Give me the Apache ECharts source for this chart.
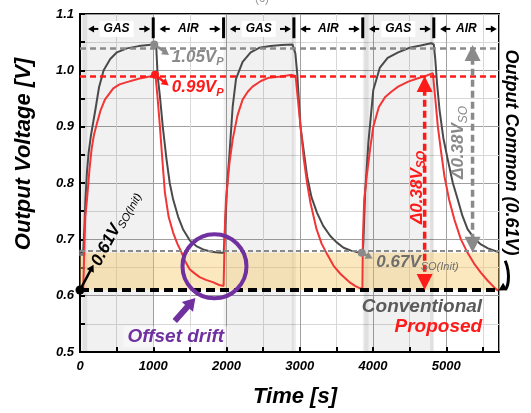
<!DOCTYPE html>
<html><head><meta charset="utf-8">
<script src="https://cdn.jsdelivr.net/npm/echarts@6/dist/echarts.min.js"></script>
<style>html,body{margin:0;padding:0;background:#fff}#c{width:531px;height:413px}</style>
</head><body><div id="c"></div>
<script>
// ---------------- DATA ----------------
const convT = [0,45,60,74,95,119,150,210,260,323,413,504,640,800,1000,1040,
  1060,1091,1130,1181,1225,1271,1340,1406,1500,1588,1680,1768,1850,1930,1962,
  1972,1993,2010,2040,2084,2130,2220,2330,2446,2600,2750,2900,
  2940,2965,3010,3100,3160,3236,3320,3417,3500,3598,3700,3824,3860,
  3870,3892,3937,4004,4094,4200,4343,4500,4650,4794,4830,
  4850,4875,4908,4960,5020,5090,5156,5220,5291,5380,5472,5570,5675,5710];
const convV = [0.676,0.68,0.72,0.77,0.82,0.855,0.885,0.93,0.97,1.0,1.02,1.032,1.039,1.043,1.046,1.044,
  0.99,0.954,0.90,0.842,0.80,0.771,0.74,0.718,0.698,0.688,0.682,0.679,0.677,0.676,0.676,
  0.70,0.753,0.80,0.85,0.935,0.985,1.015,1.032,1.040,1.043,1.045,1.046,
  1.03,0.995,0.90,0.812,0.775,0.747,0.724,0.706,0.695,0.685,0.680,0.676,0.676,
  0.70,0.783,0.872,0.965,1.005,1.022,1.032,1.040,1.044,1.048,1.046,
  1.02,0.975,0.93,0.88,0.842,0.80,0.771,0.742,0.718,0.702,0.691,0.684,0.679,0.678];
const propT = [0,45,58,72,98,130,160,190,230,278,340,454,540,640,800,950,1030,
  1060,1091,1125,1159,1210,1271,1330,1385,1440,1497,1560,1633,1720,1813,1900,1960,
  1968,1980,1993,2040,2084,2150,2220,2290,2355,2470,2581,2750,2890,
  2943,2988,3056,3100,3146,3229,3300,3380,3462,3560,3688,3760,3824,3855,
  3862,3880,3914,3960,4004,4080,4163,4250,4343,4480,4614,4720,4817,
  4850,4885,4930,4975,5040,5111,5200,5291,5380,5472,5570,5675,5710];
const propV = [0.612,0.614,0.68,0.74,0.775,0.825,0.862,0.885,0.905,0.928,0.948,0.968,0.975,0.979,0.985,0.989,0.992,
  0.95,0.90,0.84,0.783,0.74,0.712,0.692,0.677,0.66,0.647,0.64,0.633,0.628,0.624,0.619,0.617,
  0.66,0.73,0.77,0.835,0.877,0.92,0.948,0.962,0.971,0.981,0.987,0.989,0.992,
  0.99,0.93,0.842,0.80,0.765,0.718,0.692,0.672,0.653,0.638,0.623,0.617,0.613,0.612,
  0.70,0.77,0.812,0.86,0.90,0.935,0.952,0.962,0.971,0.98,0.986,0.99,0.995,
  0.95,0.90,0.855,0.812,0.77,0.735,0.70,0.676,0.657,0.641,0.626,0.612,0.609];
const phaseEdges = [0,1000,1960,2920,3860,4830,5720];
const phaseNames = ['GAS','AIR','GAS','AIR','GAS','AIR'];
const edgeBands = [[35,100],[2890,2950],[3880,3940],[4780,4825]];
const xTickLabels = ['0','1000','2000','3000','4000','5000'];
const yTickLabels = ['0.5','0.6','0.7','0.8','0.9','1.0','1.1'];
const convPeak = 1.045, propPeak = 0.99, convBase = 0.676, propBase = 0.61;

// ---------------- CHART ----------------
const F = "'Liberation Sans', Arial, Helvetica, sans-serif";
const chart = echarts.init(document.getElementById('c'));
const zip = (a,b) => a.map((t,i) => [t,b[i]]);
const BI = {fontFamily:F, fontWeight:'bold', fontStyle:'italic', color:'#000'};

const gasAreas = [];
phaseNames.forEach((n,i) => { if (n === 'GAS') gasAreas.push([{xAxis:phaseEdges[i]},{xAxis:phaseEdges[i+1]}]); });

function helper(name, z, extra){
  return Object.assign({name, type:'line', data:[], silent:true, z, showSymbol:false, lineStyle:{opacity:0}}, extra);
}
function hline(v, color, width, dash){
  return {yAxis:v, lineStyle:{color, width, type:dash}};
}

chart.setOption({
  animation:false,
  backgroundColor:'#fff',
  grid:{left:80, right:32, top:14, bottom:60, show:true, borderColor:'#000', borderWidth:2, backgroundColor:'#fff'},
  xAxis:{type:'value', min:0, max:5720, interval:500,
    name:'Time [s]', nameLocation:'middle', nameGap:34,
    nameTextStyle:Object.assign({}, BI, {fontSize:22, padding:[0,0,0,11]}),
    axisLine:{onZero:false, lineStyle:{color:'#000', width:2}},
    axisTick:{inside:true, length:5, lineStyle:{color:'#000', width:2}},
    axisLabel:Object.assign({}, BI, {fontSize:13, margin:8, showMaxLabel:false,
      formatter:v => (v % 1000 === 0 ? xTickLabels[v/1000] : '')}),
    splitLine:{show:true, lineStyle:{color:['#a0a0a0','#d8d8d8'], width:1}}
  },
  yAxis:{type:'value', min:0.5, max:1.1, interval:0.05,
    name:'Output Voltage [V]', nameLocation:'middle', nameGap:45, nameRotate:90,
    nameTextStyle:Object.assign({}, BI, {fontSize:22, padding:[0,0,0,58]}),
    axisLine:{onZero:false, lineStyle:{color:'#000', width:2}},
    axisTick:{inside:true, length:5, lineStyle:{color:'#000', width:2}},
    axisLabel:Object.assign({}, BI, {fontSize:13, margin:6,
      formatter:v => { const k = Math.round(v*100); return k % 10 === 0 ? yTickLabels[(k-50)/10] : ''; }}),
    splitLine:{show:true, lineStyle:{color:['#a0a0a0','#d8d8d8'], width:1}}
  },
  series:[
    helper('gas', 1, {markArea:{silent:true, itemStyle:{color:'rgba(0,0,0,0.055)'}, data:gasAreas}}),
    helper('edges', 1, {markArea:{silent:true, itemStyle:{color:'rgba(0,0,0,0.07)'}, data:edgeBands.map(b => [{xAxis:b[0]},{xAxis:b[1]}])}}),
    helper('drift', 1, {markArea:{silent:true, itemStyle:{color:'rgba(247,200,100,0.42)'}, data:[[{yAxis:propBase},{yAxis:convBase}]]}}),
    {name:'Conventional', type:'line', data:zip(convT,convV), showSymbol:false, z:3,
      lineStyle:{color:'#4a4a4a', width:2}},
    {name:'Proposed', type:'line', data:zip(propT,propV), showSymbol:false, z:4,
      lineStyle:{color:'#f23535', width:2}},
    helper('refs', 6, {markLine:{silent:true, symbol:'none', label:{show:false},
      data:[hline(convPeak,'#8a8a8a',2.5,[6,4]), hline(propPeak,'#ff1a1a',2.5,[6,4]),
            hline(convBase,'#8a8a8a',2,[5,3]), hline(propBase,'#000',4,[9,5])]}})
  ]
});

// ---------------- ANNOTATIONS (positions from the axes' scales) ----------------
const px = (t,v) => chart.convertToPixel({gridIndex:0},[t,v]);
function seg(p,q,color,w,dash){ return {type:'line', z:110, shape:{x1:p[0],y1:p[1],x2:q[0],y2:q[1]}, style:{stroke:color, lineWidth:w, lineDash:dash||null}}; }
function head(tip,u,color,len,wid){
  const nx=-u[1], ny=u[0], bx=tip[0]-u[0]*len, by=tip[1]-u[1]*len;
  return {type:'polygon', z:111, shape:{points:[tip,[bx+nx*wid/2,by+ny*wid/2],[bx-nx*wid/2,by-ny*wid/2]]}, style:{fill:color}};
}
function arrow(a,b,o){
  const p=px(a[0],a[1]), q=px(b[0],b[1]);
  const dx=q[0]-p[0], dy=q[1]-p[1], L=Math.hypot(dx,dy), u=[dx/L,dy/L];
  const p2 = o.both ? [p[0]+u[0]*o.len*0.8, p[1]+u[1]*o.len*0.8] : p;
  const q2 = [q[0]-u[0]*o.len*0.8, q[1]-u[1]*o.len*0.8];
  const els=[seg(p2,q2,o.color,o.w,o.dash), head(q,u,o.color,o.len,o.wid)];
  if (o.both) els.push(head(p,[-u[0],-u[1]],o.color,o.len,o.wid));
  return els;
}
function dot(t,v,color,r){ const p=px(t,v); return {type:'circle', z:112, shape:{cx:p[0],cy:p[1],r}, style:{fill:color}}; }
function txt(t,v,text,o){
  const p=px(t,v);
  return {type:'text', z:120, x:p[0]+(o.dx||0), y:p[1], rotation:o.rot||0,
    style:Object.assign({text, fontFamily:F, fontWeight:'bold', fontStyle:'italic', fontSize:o.size||17,
      fill:o.color||'#000', align:o.align||'left', verticalAlign:o.va||'middle'}, o.extra||{})};
}
function rich(color, ms, ss, pad, subStyle){
  return {a:{fontFamily:F, fontWeight:'bold', fontStyle:'italic', fontSize:ms, fill:color},
          b:{fontFamily:F, fontWeight:subStyle||'bold', fontStyle:'italic', fontSize:ss, fill:color, padding:[pad,0,0,0]}};
}

const G = [];
// phase header: bars, arrows, labels
const yHead = 1.0735;
phaseEdges.slice(1,-1).forEach(e => G.push(seg(px(e,1.094), px(e,1.057), '#000', 3)));
phaseNames.forEach((n,i) => {
  const a = phaseEdges[i], b = phaseEdges[i+1];
  const lt = i === 0 ? a+110 : a+85, rt = i === phaseNames.length-1 ? b-30 : b-40;
  G.push(...arrow([lt+140,yHead],[lt,yHead],{color:'#000', w:2, len:6, wid:7}));
  G.push(...arrow([rt-150,yHead],[rt,yHead],{color:'#000', w:2, len:6, wid:7}));
  G.push(txt((a+b)/2, yHead, n, {size:12, align:'center', extra:{backgroundColor:'#fff', padding:[2,4]}}));
});

// peak annotations
G.push(dot(1014,1.046,'#8a8a8a',4), ...arrow([1014,1.046],[1215,1.027],{color:'#8a8a8a', w:2.5, len:7, wid:8}));
G.push(txt(1253,1.024,'{a|1.05V}{b|P}',{extra:{rich:rich('#8a8a8a',17,11,10)}}));
G.push(dot(1024,0.992,'#ff1a1a',4), ...arrow([1024,0.992],[1210,0.973],{color:'#ff1a1a', w:2.5, len:7, wid:8}));
G.push(txt(1253,0.969,'{a|0.99V}{b|P}',{extra:{rich:rich('#ff1a1a',17,11,10)}}));

// baseline annotations
G.push(dot(3846,convBase,'#8a8a8a',4), ...arrow([3846,convBase],[3995,0.666],{color:'#8a8a8a', w:2.5, len:7, wid:8}));
G.push(txt(4045,0.659,'{a|0.67V}{b|SO(Init)}',{extra:{rich:rich('#6e6e6e',17,11,10,'normal')}}));
G.push(dot(0,propBase,'#000',4.5), ...arrow([0,propBase],[185,0.655],{color:'#000', w:2.5, len:7, wid:8}));
G.push(txt(215,0.655,'{a|0.61V}{b|SO(Init)}',{rot:1.08, va:'middle', extra:{rich:rich('#000',17,11,10,'normal')}}));
G.push({type:'rect', z:2, shape:(()=>{const p=px(30,convBase);return {x:p[0]-3,y:p[1]-3,width:6,height:6};})(), style:{fill:'#777'}});

// delta arrows
G.push(...arrow([4705,propPeak],[4705,propBase],{color:'#ff1a1a', w:3.5, len:16, wid:16, both:true, dash:[7,4]}));
G.push(txt(4600,0.792,'{a|Δ0.38V}{b|SO}',{rot:Math.PI/2, align:'center', extra:{rich:rich('#ff1a1a',17,12,10)}}));
G.push(...arrow([5359,convPeak],[5359,convBase],{color:'#8a8a8a', w:3.5, len:16, wid:16, both:true, dash:[7,4]}));
G.push(txt(5169,0.872,'{a|Δ0.38V}{b|SO}',{rot:Math.PI/2, align:'center', extra:{rich:rich('#8a8a8a',17,12,10,'normal')}}));

// offset drift
(() => { const c = px(1836,0.652); G.push({type:'circle', z:115, shape:{cx:c[0],cy:c[1],r:32}, style:{fill:null, stroke:'#7030a0', lineWidth:4}}); })();
G.push(...arrow([1294,0.555],[1575,0.596],{color:'#7030a0', w:6, len:12, wid:15}));
G.push(txt(1308,0.527,'Offset drift',{size:19, color:'#7030a0', align:'center', extra:{backgroundColor:'rgba(255,255,255,0.45)', padding:[1,4]}}));

// legend-like texts
G.push(txt(5490,0.580,'Conventional',{size:19, color:'#5a5a5a', align:'right'}));
G.push(txt(5490,0.544,'Proposed',{size:19, color:'#ff1a1a', align:'right'}));

// right side label + curved arrow
G.push(txt(5880,0.854,'Output Common (0.61V)',{size:18, align:'center', rot:-Math.PI/2}));
(() => {
  const s = px(5805,0.662), e = px(5700,0.611);
  G.push({type:'bezierCurve', z:115, shape:{x1:s[0],y1:s[1],cpx1:s[0]+6,cpy1:s[1]+14,cpx2:e[0]+10,cpy2:e[1]+2,x2:e[0]+7,y2:e[1]-1}, style:{stroke:'#000', lineWidth:3, fill:null}});
  G.push(head([e[0]+1,e[1]+1],[-0.85,0.5],'#000',8,9));
})();
G.push({type:'text', z:120, x:262, y:-7, style:{text:'(c)', fontFamily:F, fontSize:12, fill:'#999', align:'center'}});

chart.setOption({graphic:{elements:G}});
</script>
</body></html>
